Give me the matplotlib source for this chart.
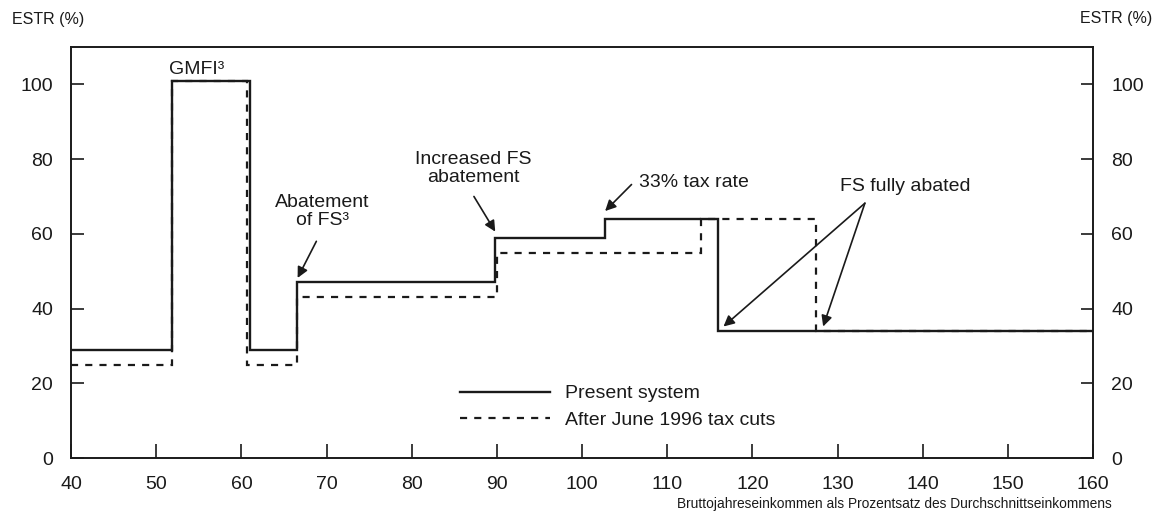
import matplotlib
matplotlib.use("Agg")
import matplotlib.pyplot as plt

plt.rcParams['font.family'] = ['Liberation Sans', 'DejaVu Sans']

# step edges (income as % of average) and ESTR values per band
present_edges = [40, 51.8, 61.0, 66.5, 89.8, 102.7, 115.9, 160]
present_vals = [29, 101, 29, 47, 59, 64, 34]
after_edges = [40, 51.9, 60.7, 66.5, 90.0, 114.0, 127.5, 160]
after_vals = [25, 101, 25, 43, 55, 64, 34]

xticks = [40, 50, 60, 70, 80, 90, 100, 110, 120, 130, 140, 150, 160]
yticks = [0, 20, 40, 60, 80, 100]

ink = '#1a1a1a'
fig = plt.figure(figsize=(11.59, 5.19), dpi=100)
ax = fig.add_axes([0.0613, 0.1175, 0.8819, 0.7919])

ax.stairs(after_vals, after_edges, baseline=None, color=ink, lw=1.6,
          linestyle=(0, (3.2, 3.2)), label='After June 1996 tax cuts')
ax.stairs(present_vals, present_edges, baseline=None, color=ink, lw=1.7,
          label='Present system')

ax.set_xlim(40, 160)
ax.set_ylim(0, 110)
ax.set_xticks(xticks)
ax.set_yticks(yticks)
ax.tick_params(axis='x', direction='in', length=10, width=1.2, pad=13,
               labelsize=14, colors=ink)
ax.tick_params(axis='y', direction='in', length=9, width=1.2, pad=13,
               labelsize=14, colors=ink, right=True, labelright=True)
for s in ax.spines.values():
    s.set_linewidth(1.4)
    s.set_color(ink)

fs = 14
arrow = dict(arrowstyle='-|>', color=ink, lw=1.2, mutation_scale=16,
             shrinkA=0, shrinkB=0)

ax.text(54.8, 104, 'GMFI³', ha='center', va='center', fontsize=fs, color=ink)
ax.text(69.5, 66, 'Abatement\nof FS³', ha='center', va='center', fontsize=fs,
        color=ink, linespacing=1.1)
ax.annotate('', xy=(66.6, 48.2), xytext=(68.8, 58.0), arrowprops=arrow)

ax.text(87.2, 77.5, 'Increased FS\nabatement', ha='center', va='center',
        fontsize=fs, color=ink, linespacing=1.1)
ax.annotate('', xy=(89.8, 60.6), xytext=(87.3, 70.0), arrowprops=arrow)

ax.text(106.7, 73.7, '33% tax rate', ha='left', va='center', fontsize=fs, color=ink)
ax.annotate('', xy=(102.7, 66.1), xytext=(105.8, 73.2), arrowprops=arrow)

ax.text(130.3, 72.6, 'FS fully abated', ha='left', va='center', fontsize=fs, color=ink)
for hx in [116.6, 128.3]:
    ax.annotate('', xy=(hx, 35.2), xytext=(133.2, 68.2), arrowprops=arrow)

handles, labels = ax.get_legend_handles_labels()
ax.legend(handles[::-1], labels[::-1], loc='upper left',
          bbox_to_anchor=(0.381, 0.178), frameon=False, fontsize=fs,
          handlelength=4.6, handletextpad=0.8, labelspacing=0.46,
          borderpad=0, borderaxespad=0, labelcolor=ink)

fig.text(0.0105, 0.962, 'ESTR (%)', fontsize=11.5, ha='left', va='center', color=ink)
fig.text(0.994, 0.965, 'ESTR (%)', fontsize=11.5, ha='right', va='center', color=ink)
fig.text(0.959, 0.029, 'Bruttojahreseinkommen als Prozentsatz des Durchschnittseinkommens',
         fontsize=9.9, ha='right', va='center', color=ink)

fig.savefig('out.png', dpi=100)
